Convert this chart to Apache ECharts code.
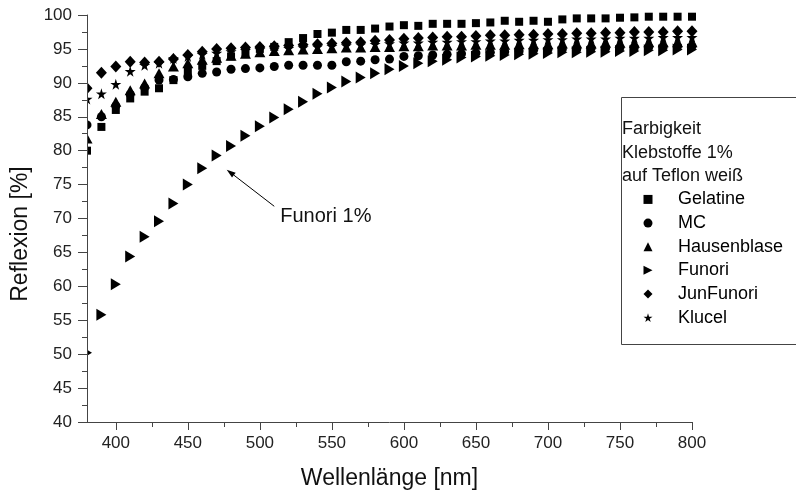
<!DOCTYPE html>
<html><head><meta charset="utf-8">
<script src="https://cdn.jsdelivr.net/npm/echarts@6/dist/echarts.min.js"></script>
<style>html,body{margin:0;padding:0;background:#fff}#c{width:796px;height:494px}</style>
</head><body><div id="c"></div>
<script>
// ---- data ----
const wavelengths = [380,390,400,410,420,430,440,450,460,470,480,490,500,510,520,530,540,550,560,570,580,590,600,610,620,630,640,650,660,670,680,690,700,710,720,730,740,750,760,770,780,790,800];
const gelatine = [80.0,83.5,86.0,87.7,88.7,89.2,90.4,91.6,92.5,93.2,93.9,94.5,95.0,95.3,96.0,96.6,97.2,97.4,97.8,97.8,98.0,98.3,98.5,98.4,98.7,98.7,98.7,98.8,98.9,99.15,99.0,99.15,99.0,99.35,99.5,99.5,99.5,99.6,99.65,99.75,99.75,99.75,99.75];
const mc = [83.8,85.0,86.6,88.3,89.3,90.4,90.5,90.9,91.4,91.6,92.0,92.1,92.2,92.4,92.6,92.6,92.6,92.6,93.1,93.2,93.4,93.5,93.9,94.0,94.1,94.2,94.3,94.4,94.5,94.6,94.7,94.8,94.9,95.0,95.0,95.1,95.1,95.2,95.2,95.3,95.3,95.4,95.4];
const hausenblase = [81.8,85.4,87.2,88.9,89.9,91.4,92.4,92.9,93.4,93.7,94.0,94.3,94.5,94.7,94.8,94.9,95.0,95.1,95.2,95.2,95.3,95.3,95.4,95.4,95.5,95.5,95.5,95.6,95.6,95.6,95.7,95.7,95.7,95.8,95.8,95.8,95.9,95.9,95.9,96.0,96.0,96.0,96.0];
const funori = [50.2,55.8,60.3,64.4,67.3,69.6,72.2,75.0,77.4,79.3,80.7,82.2,83.6,84.9,86.1,87.2,88.4,89.3,90.2,90.8,91.4,92.0,92.5,92.9,93.2,93.4,93.75,93.9,94.0,94.1,94.2,94.3,94.4,94.5,94.5,94.6,94.6,94.7,94.7,94.8,94.8,94.9,94.9];
const junFunori = [89.2,91.5,92.4,93.1,93.0,93.1,93.5,94.1,94.6,95.0,95.1,95.2,95.3,95.4,95.5,95.6,95.7,95.8,95.9,96.0,96.2,96.3,96.5,96.6,96.7,96.8,96.8,96.9,97.0,97.0,97.1,97.1,97.2,97.2,97.3,97.3,97.4,97.4,97.5,97.5,97.5,97.6,97.6];
const klucel = [87.6,88.4,89.8,91.7,92.6,92.9,93.6,93.9,94.2,94.4,94.6,94.8,94.9,95.0,95.1,95.2,95.3,95.4,95.5,95.6,95.7,95.8,95.9,95.9,96.0,96.0,96.1,96.1,96.2,96.2,96.3,96.3,96.4,96.4,96.5,96.5,96.5,96.6,96.6,96.6,96.7,96.7,96.7];
const seriesNames = ['Gelatine','MC','Hausenblase','Funori','JunFunori','Klucel'];
const xMajorTicks = [400,450,500,550,600,650,700,750,800];
const xMinorTicks = [425,475,525,575,625,675,725,775];
const legendTitle = ['Farbigkeit','Klebstoffe 1%','auf Teflon weiß'];
const annotationText = 'Funori 1%';
const arrowTip = [477, 77.2];
const arrowTail = [510, 71.8];

const FONT = '"Liberation Sans", Arial, Helvetica, sans-serif';
const pair = arr => wavelengths.map((w, i) => [w, arr[i]]);
const STAR = 'path://M50,0 L61,35 L98,35 L68,57 L79,91 L50,70 L21,91 L32,57 L2,35 L39,35 Z';
const TRI_RIGHT = 'path://M0,0 L10,5 L0,10 Z';

const symbols = [
  {symbol: 'rect', size: 8},
  {symbol: 'circle', size: 9},
  {symbol: 'triangle', size: [11, 10]},
  {symbol: TRI_RIGHT, size: [10, 12]},
  {symbol: 'diamond', size: [11, 12]},
  {symbol: STAR, size: 11}
];
const dataSets = [gelatine, mc, hausenblase, funori, junFunori, klucel];

const chart = echarts.init(document.getElementById('c'), null, {renderer: 'canvas'});

const axisLineColor = '#444';
const option = {
  animation: false,
  backgroundColor: '#fff',
  textStyle: {fontFamily: FONT},
  grid: {left: 87, right: 104, top: 15, bottom: 72, containLabel: false},
  xAxis: [{
    type: 'value', min: 380, max: 800, z: 10,
    axisLine: {show: true, lineStyle: {color: axisLineColor, width: 1}},
    axisTick: {show: true, inside: false, length: 8, lineStyle: {color: axisLineColor}, customValues: xMajorTicks},
    axisLabel: {show: true, margin: 13, color: '#222', fontSize: 17, fontFamily: FONT, customValues: xMajorTicks},
    splitLine: {show: false}
  }, {
    type: 'value', min: 380, max: 800, position: 'bottom', gridIndex: 0, z: 10,
    axisLine: {show: false},
    axisTick: {show: true, inside: false, length: 5, lineStyle: {color: axisLineColor}, customValues: xMinorTicks},
    axisLabel: {show: false},
    splitLine: {show: false}
  }],
  yAxis: {
    type: 'value', min: 40, max: 100, interval: 5, z: 10,
    axisLine: {show: true, lineStyle: {color: axisLineColor, width: 1}},
    axisTick: {show: true, inside: false, length: 9, lineStyle: {color: axisLineColor}},
    minorTick: {show: true, splitNumber: 2, length: 5, lineStyle: {color: axisLineColor}},
    axisLabel: {margin: 15, color: '#222', fontSize: 17, fontFamily: FONT},
    splitLine: {show: false}
  },
  legend: {
    orient: 'vertical', left: 643.5, top: 187.6, padding: 0,
    itemWidth: 9, itemHeight: 9, itemGap: 0,
    formatter: name => '{pad| }' + name,
    textStyle: {fontSize: 18, color: '#000', fontFamily: FONT, lineHeight: 23.64,
      rich: {pad: {width: 20.5, lineHeight: 23.64, fontSize: 18}}},
    data: seriesNames
  },
  series: seriesNames.map((name, i) => ({
    name, type: 'scatter', xAxisIndex: 0, yAxisIndex: 0,
    symbol: symbols[i].symbol, symbolSize: symbols[i].size,
    itemStyle: {color: '#000', opacity: 1},
    emphasis: {disabled: true},
    data: pair(dataSets[i])
  }))
};
chart.setOption(option);

// annotation and text elements
const tip = chart.convertToPixel({xAxisIndex: 0, yAxisIndex: 0}, arrowTip);
const tail = chart.convertToPixel({xAxisIndex: 0, yAxisIndex: 0}, arrowTail);
const origin = chart.convertToPixel({xAxisIndex: 0, yAxisIndex: 0}, [380, 100]);
const bottomLeft = chart.convertToPixel({xAxisIndex: 0, yAxisIndex: 0}, [380, 40]);
const dx = tip[0] - tail[0], dy = tip[1] - tail[1];
const L = Math.sqrt(dx*dx + dy*dy), ux = dx / L, uy = dy / L;
const hl = 9, hw = 3;
const base = [tip[0] - ux*hl, tip[1] - uy*hl];
const head = [tip, [base[0] - uy*hw, base[1] + ux*hw], [base[0] + uy*hw, base[1] - ux*hw]];

const graphics = [
  // white mask left of the plot area so markers at the axis are clipped like the original
  {type: 'rect', z: 5, shape: {x: origin[0] - 14, y: origin[1] - 10, width: 14, height: bottomLeft[1] - origin[1] + 20}, style: {fill: '#fff'}},
  {type: 'text', x: 21, y: 234, rotation: Math.PI/2, style: {text: 'Reflexion [%]', font: '23px ' + FONT, fill: '#111', align: 'center', verticalAlign: 'middle'}},
  {type: 'text', x: 389.5, y: 479, style: {text: 'Wellenlänge [nm]', font: '23px ' + FONT, fill: '#111', align: 'center', verticalAlign: 'middle'}},
  {type: 'rect', shape: {x: 621.5, y: 97.5, width: 200, height: 247}, style: {fill: 'none', stroke: '#444', lineWidth: 1}},
  {type: 'line', shape: {x1: tail[0], y1: tail[1], x2: base[0], y2: base[1]}, style: {stroke: '#000', lineWidth: 1}},
  {type: 'polygon', shape: {points: head}, style: {fill: '#000'}},
  {type: 'text', x: tail[0] + 6, y: tail[1] + 10.5, style: {text: annotationText, font: '20px ' + FONT, fill: '#111', align: 'left', verticalAlign: 'middle'}}
];
legendTitle.forEach((t, i) => {
  graphics.push({type: 'text', x: 622, y: 128.8 + i * 23.8, style: {text: t, font: '18px ' + FONT, fill: '#111', align: 'left', verticalAlign: 'middle'}});
});
chart.setOption({graphic: graphics});
</script>
</body></html>
